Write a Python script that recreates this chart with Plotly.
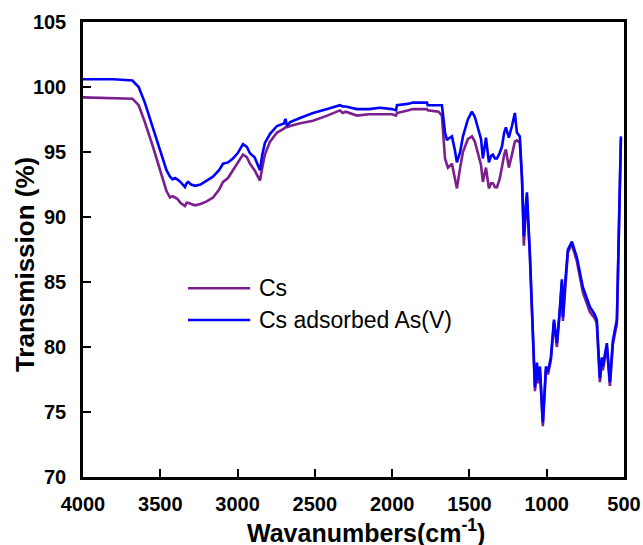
import plotly.graph_objects as go

wavenumber = [4000, 3800, 3680, 3640, 3600, 3550, 3500, 3460, 3437, 3420, 3405, 3390, 3370, 3355,
              3340, 3330, 3320, 3300, 3275, 3240, 3200, 3159, 3120, 3094, 3062, 3030, 3000, 2965,
              2940, 2920, 2890, 2870, 2855, 2840, 2823, 2790, 2745, 2700, 2690, 2680, 2660, 2600,
              2512, 2420, 2338, 2320, 2300, 2228, 2150, 2079, 2000, 1975, 1969, 1900, 1865, 1800,
              1775, 1770, 1700, 1678, 1658, 1645, 1639, 1613, 1595, 1581, 1560, 1542, 1510, 1484,
              1465, 1445, 1425, 1413, 1400, 1393, 1374, 1360, 1348, 1335, 1322, 1305, 1290, 1275,
              1264, 1245, 1225, 1206, 1193, 1174, 1160, 1148, 1135, 1128, 1109, 1089, 1076, 1063,
              1057, 1044, 1025, 1005, 992, 973, 953, 934, 915, 902, 895, 883, 863, 837, 805, 766,
              721, 689, 676, 656, 643, 637, 611, 591, 572, 559, 546, 535, 527, 520]

cs_adsorbed = [100.6, 100.6, 100.5, 100.0, 98.8, 97.0, 95.1, 93.6, 93.1, 92.9, 93.0, 92.9, 92.7, 92.5,
               92.3, 92.6, 92.7, 92.5, 92.4, 92.5, 92.8, 93.1, 93.6, 94.1, 94.2, 94.5, 94.9, 95.6,
               95.4, 94.9, 94.6, 94.1, 93.6, 94.8, 95.7, 96.4, 97.0, 97.2, 97.55, 97.0, 97.3, 97.6,
               98.0, 98.3, 98.6, 98.5, 98.5, 98.3, 98.3, 98.4, 98.3, 98.2, 98.6, 98.7, 98.8, 98.8,
               98.8, 98.6, 98.6, 98.6, 96.5, 95.9, 96.0, 96.2, 95.2, 94.2, 95.0, 96.2, 97.5, 98.1,
               97.7, 96.9, 96.0, 94.5, 95.5, 96.1, 94.2, 94.7, 94.8, 94.5, 94.5, 94.9, 95.4, 96.5,
               96.9, 96.1, 97.0, 98.0, 96.5, 96.2, 93.0, 88.5, 91.0, 91.9, 87.2, 80.0, 76.9, 78.8,
               77.5, 78.5, 74.2, 78.5, 78.1, 79.2, 82.1, 80.3, 82.8, 85.2, 82.3, 84.6, 87.5, 88.1,
               86.9, 84.6, 83.1, 82.5, 82.1, 77.6, 79.2, 78.5, 80.3, 77.3, 80.5, 81.3, 82.1, 88.0,
               93.0, 96.2]

cs = [99.2, 99.15, 99.1, 98.6, 97.3, 95.5, 93.6, 92.0, 91.5, 91.6, 91.5, 91.4, 91.1, 91.0,
      90.85, 91.1, 91.1, 91.0, 90.9, 91.0, 91.2, 91.5, 92.1, 92.7, 93.0, 93.6, 94.2, 94.8,
      94.6, 94.1, 93.6, 93.2, 92.8, 93.8, 94.8, 95.8, 96.5, 96.8, 96.9, 96.9, 97.0, 97.2,
      97.4, 97.8, 98.2, 98.0, 98.1, 97.8, 97.9, 97.9, 97.9, 97.8, 98.0, 98.2, 98.3, 98.3,
      98.3, 98.2, 98.1, 97.8, 94.5, 94.0, 93.8, 94.1, 93.0, 92.2, 93.8, 95.0, 96.0, 96.2,
      95.8, 95.0, 94.0, 92.7, 93.3, 93.8, 92.2, 92.6, 92.6, 92.3, 92.3, 92.9, 93.8, 94.8,
      95.2, 93.8, 94.8, 95.8, 95.9, 95.7, 93.0, 87.8, 90.5, 91.5, 87.0, 79.8, 76.6, 78.5,
      77.2, 78.2, 73.9, 78.2, 77.9, 79.0, 81.9, 80.0, 82.6, 85.0, 82.0, 84.3, 87.3, 87.9,
      86.6, 84.2, 82.7, 82.2, 81.8, 77.3, 78.9, 78.2, 80.0, 77.0, 80.2, 81.0, 81.8, 87.8,
      92.8, 96.0]

series_names = ["Cs", "Cs adsorbed As(V)"]
series_colors = ["#7B1E8E", "#0000FF"]
x_ticks = [4000, 3500, 3000, 2500, 2000, 1500, 1000, 500]
y_ticks = [70, 75, 80, 85, 90, 95, 100, 105]
x_title = "Wavanumbers(cm<sup>-1</sup>)"
y_title = "Transmission (%)"

fig = go.Figure()
for name, vals, col in zip(series_names, [cs, cs_adsorbed], series_colors):
    fig.add_trace(go.Scatter(x=wavenumber, y=vals, mode="lines", name=name,
                             line=dict(color=col, width=2.6), showlegend=False))

# manual legend
leg_y = [0.415, 0.345]
for name, col, yy in zip(series_names, series_colors, leg_y):
    fig.add_shape(type="line", xref="paper", yref="paper", x0=0.194, x1=0.309, y0=yy, y1=yy,
                  line=dict(color=col, width=2.6))
    fig.add_annotation(xref="paper", yref="paper", x=0.322, y=yy, text=name, showarrow=False,
                       xanchor="left", yanchor="middle",
                       font=dict(family="Liberation Sans, Arial", size=23, color="black"))

# axis titles
fig.add_annotation(xref="paper", yref="paper", x=0.523, y=-0.081, text="<b>" + x_title + "</b>",
                   showarrow=False, xanchor="center", yanchor="top", borderpad=0,
                   font=dict(family="Liberation Sans, Arial", size=25, color="black"))
fig.add_annotation(xref="paper", yref="paper", x=-0.107, y=0.466, text="<b>" + y_title + "</b>",
                   showarrow=False, xanchor="center", yanchor="middle", textangle=-90,
                   font=dict(family="Liberation Sans, Arial", size=26, color="black"))

axis_common = dict(showline=True, linecolor="black", linewidth=2.5, mirror=True,
                   ticks="inside", ticklen=8, tickwidth=1.6, tickcolor="black",
                   showgrid=False, zeroline=False, automargin=False,
                   tickfont=dict(family="Liberation Sans, Arial", size=20, color="black", weight="bold"))

fig.update_layout(
    width=643, height=545,
    margin=dict(l=83, r=19, t=22, b=68),
    paper_bgcolor="white", plot_bgcolor="white",
    xaxis=dict(range=[4000, 500], tickvals=x_ticks, ticklabelstandoff=7, **axis_common),
    yaxis=dict(range=[70, 105], tickvals=y_ticks, ticklabelstandoff=10, **axis_common),
)

fig.write_html("out.html")
